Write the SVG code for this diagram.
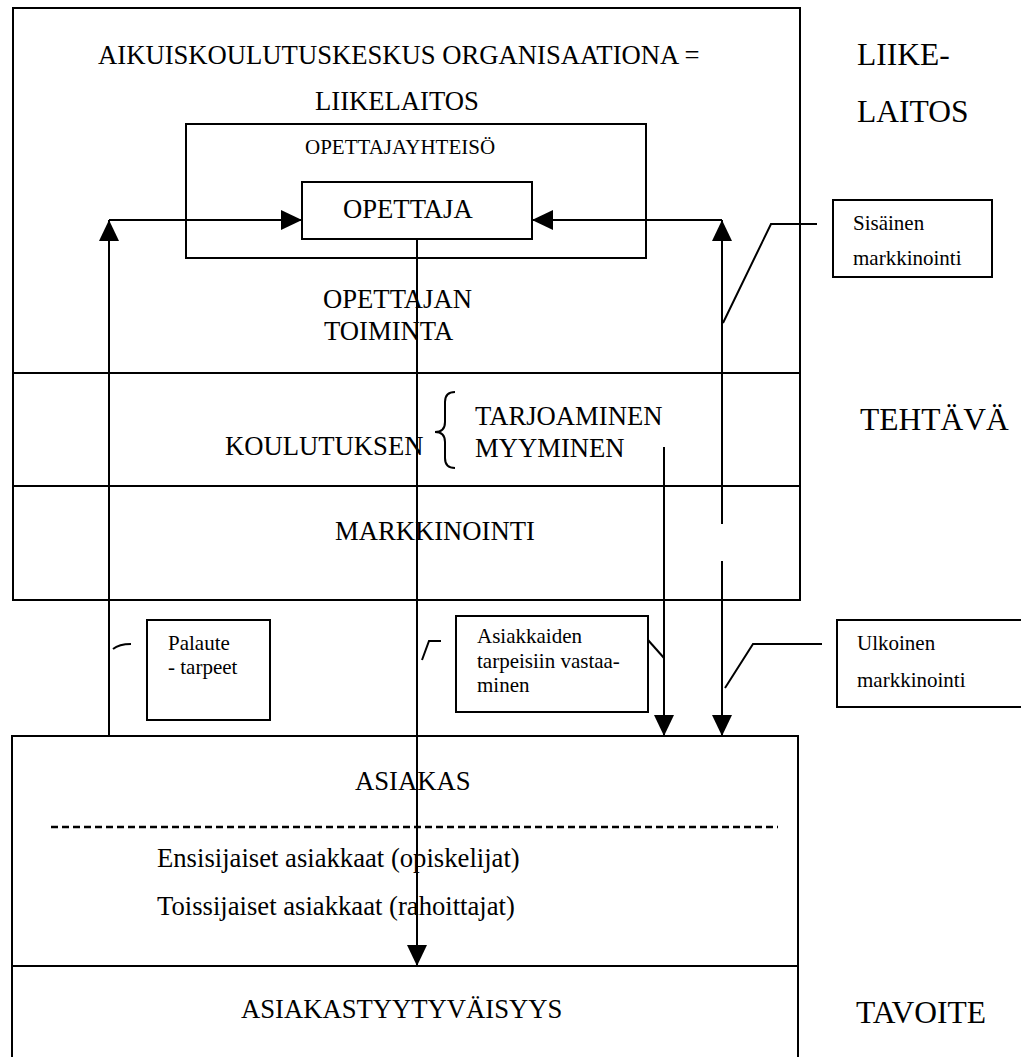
<svg xmlns="http://www.w3.org/2000/svg" width="1021" height="1057" viewBox="0 0 1021 1057">
<style>
.box{fill:none;stroke:#000;stroke-width:2}
.ln{fill:none;stroke:#000;stroke-width:2}
.t{font-family:"Liberation Serif","Times New Roman",serif;fill:#000}
.m{font-size:26.67px}
.b{font-size:31.5px}
.s{font-size:21px}
</style>
<defs>
<marker id="ah" markerUnits="userSpaceOnUse" markerWidth="22" markerHeight="20" refX="21" refY="10" orient="auto" viewBox="0 0 22 20">
<path d="M0,0 L21,10 L0,20 Z" fill="#000"/>
</marker>
</defs>
<rect width="1021" height="1057" fill="#fff"/>

<g id="organisaatio">
<rect class="box" x="13" y="8" width="787" height="592"/>
<line class="ln" x1="13" y1="373" x2="800" y2="373"/>
<line class="ln" x1="13" y1="486" x2="800" y2="486"/>
<text class="t m" x="98" y="64">AIKUISKOULUTUSKESKUS ORGANISAATIONA =</text>
<text class="t m" x="315" y="110">LIIKELAITOS</text>
<text class="t m" x="323" y="308">OPETTAJAN</text>
<text class="t m" x="324" y="340">TOIMINTA</text>
<text class="t m" x="225" y="455">KOULUTUKSEN</text>
<path class="ln" d="M455,392 Q445,392 445,402 L445,422 Q445,432 435,432 Q445,432 445,442 L445,458 Q445,468 455,468" stroke-width="1.8"/>
<text class="t m" x="475" y="425">TARJOAMINEN</text>
<text class="t m" x="475" y="457">MYYMINEN</text>
<text class="t m" x="335" y="540">MARKKINOINTI</text>
</g>

<g id="opettajayhteiso">
<rect class="box" x="186" y="124" width="460" height="134"/>
<text class="t s" x="305" y="154">OPETTAJAYHTEISÖ</text>
</g>

<g id="opettaja">
<rect class="box" x="302" y="182" width="230" height="57" fill="#fff"/>
<text class="t m" x="343" y="218">OPETTAJA</text>
</g>

<g id="sisainen">
<rect class="box" x="833" y="200" width="159" height="77"/>
<text class="t s" x="853" y="230">Sisäinen</text>
<text class="t s" x="853" y="265">markkinointi</text>
</g>

<g id="palaute">
<rect class="box" x="147" y="620" width="123" height="100"/>
<text class="t s" x="168" y="650">Palaute</text>
<text class="t s" x="168" y="674">- tarpeet</text>
</g>

<g id="asiakkaiden">
<rect class="box" x="456" y="616" width="192" height="96"/>
<text class="t s" x="477" y="643">Asiakkaiden</text>
<text class="t s" x="477" y="668">tarpeisiin vastaa-</text>
<text class="t s" x="477" y="692">minen</text>
</g>

<g id="ulkoinen">
<rect class="box" x="837" y="620" width="190" height="87"/>
<text class="t s" x="857" y="650">Ulkoinen</text>
<text class="t s" x="857" y="687">markkinointi</text>
</g>

<g id="asiakas">
<path class="box" d="M12,1060 V736 H798 V1060"/>
<line class="ln" x1="12" y1="966" x2="798" y2="966"/>
<text class="t m" x="355" y="790">ASIAKAS</text>
<line x1="51" y1="827" x2="778" y2="827" stroke="#000" stroke-width="2.5" stroke-dasharray="7,4"/>
<text class="t m" x="157" y="867">Ensisijaiset asiakkaat (opiskelijat)</text>
<text class="t m" x="157" y="915">Toissijaiset asiakkaat (rahoittajat)</text>
</g>

<g id="asiakastyytyvaisyys">
<text class="t m" x="241" y="1018">ASIAKASTYYTYVÄISYYS</text>
</g>

<g id="side-labels">
<text class="t b" x="857" y="65">LIIKE-</text>
<text class="t b" x="857" y="122">LAITOS</text>
<text class="t b" x="860" y="430">TEHTÄVÄ</text>
<text class="t b" x="856" y="1023">TAVOITE</text>
</g>

<g id="connectors">
<path class="ln" d="M109,736 V220" marker-end="url(#ah)"/>
<path class="ln" d="M109,220 H302" marker-end="url(#ah)"/>
<path class="ln" d="M722,524 V220" marker-end="url(#ah)"/>
<path class="ln" d="M722,220 H532" marker-end="url(#ah)"/>
<path class="ln" d="M722,561 V736" marker-end="url(#ah)"/>
<path class="ln" d="M417,239 V966" marker-end="url(#ah)"/>
<path class="ln" d="M664,447 V736" marker-end="url(#ah)"/>
<path class="ln" d="M817,224 H771 L723,323"/>
<path class="ln" d="M822,644 H753 L725,688"/>
<path class="ln" d="M648,640 L664,658"/>
<path class="ln" d="M113,649 Q119,644 131,644"/>
<path class="ln" d="M422,660 L429,641 H441"/>
</g>
</svg>
